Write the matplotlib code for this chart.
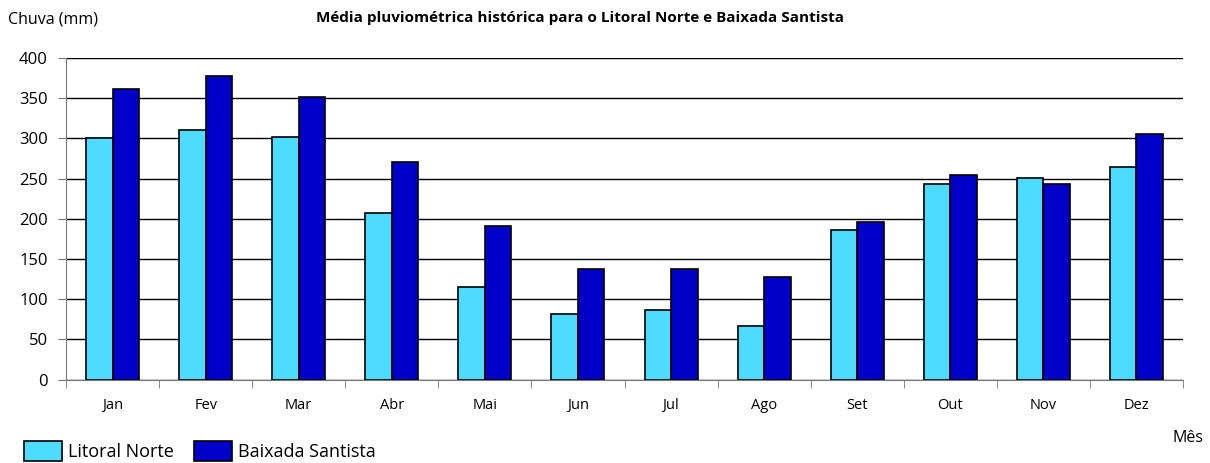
import matplotlib.pyplot as plt
import numpy as np

plt.rcParams['font.family'] = ['Open Sans', 'DejaVu Sans']

# NOTE : data
meses = ["Jan", "Fev", "Mar", "Abr", "Mai", "Jun", "Jul", "Ago", "Set", "Out", "Nov", "Dez"]
litoral_norte = [300, 310, 302, 207, 115, 81, 87, 67, 186, 243, 251, 265]
baixada_santista = [362, 377, 351, 270, 191, 137, 137, 127, 196, 255, 243, 306]

fig = plt.figure(figsize=(12.1, 4.63), dpi=100)
ax = fig.add_axes([66/1210, 1-379.5/463, (1183-66)/1210, (379.5-58)/463])

x = np.arange(len(meses))
w = 0.285
ax.bar(x - w/2, litoral_norte, w, color="#4DDCFF", edgecolor="black", linewidth=1.2,
       label="Litoral Norte", zorder=3)
ax.bar(x + w/2, baixada_santista, w, color="#0000C8", edgecolor="black", linewidth=1.2,
       label="Baixada Santista", zorder=3)

ax.set_xlim(-0.5, len(meses) - 0.5)
ax.set_ylim(0, 400)
ax.set_yticks(range(0, 401, 50))
ax.yaxis.grid(True, color="black", linewidth=1)
ax.set_axisbelow(True)

ax.set_xticks(x)
ax.set_xticklabels(meses, fontsize=10.5)
ax.set_xticks(np.arange(-0.5, len(meses), 1), minor=True)
ax.tick_params(axis="x", which="major", length=0, pad=13)
ax.tick_params(axis="x", which="minor", length=6, color="#777777")
ax.tick_params(axis="y", labelsize=12, length=6, color="#777777", direction="out", pad=7)

for s in ["top", "right"]:
    ax.spines[s].set_visible(False)
ax.spines["left"].set_color("#777777")
ax.spines["bottom"].set_color("#777777")

fig.text(8/1210, 1-20/463, "Chuva (mm)", fontsize=11.5, va="center", ha="left")
fig.text(580/1210, 1-18/463, "Média pluviométrica histórica para o Litoral Norte e Baixada Santista",
         fontsize=11, fontweight="bold", va="center", ha="center")
fig.text(1203/1210, 1-438/463, "Mês", fontsize=11.5, va="center", ha="right")

fig.legend(loc="center left", bbox_to_anchor=(24/1210, 1-451/463), ncol=2, frameon=False,
           fontsize=13, handlelength=2.1, handleheight=1.4, columnspacing=1.1,
           handletextpad=0.35, borderaxespad=0, borderpad=0)

plt.savefig("out.png", dpi=100)
plt.close()
